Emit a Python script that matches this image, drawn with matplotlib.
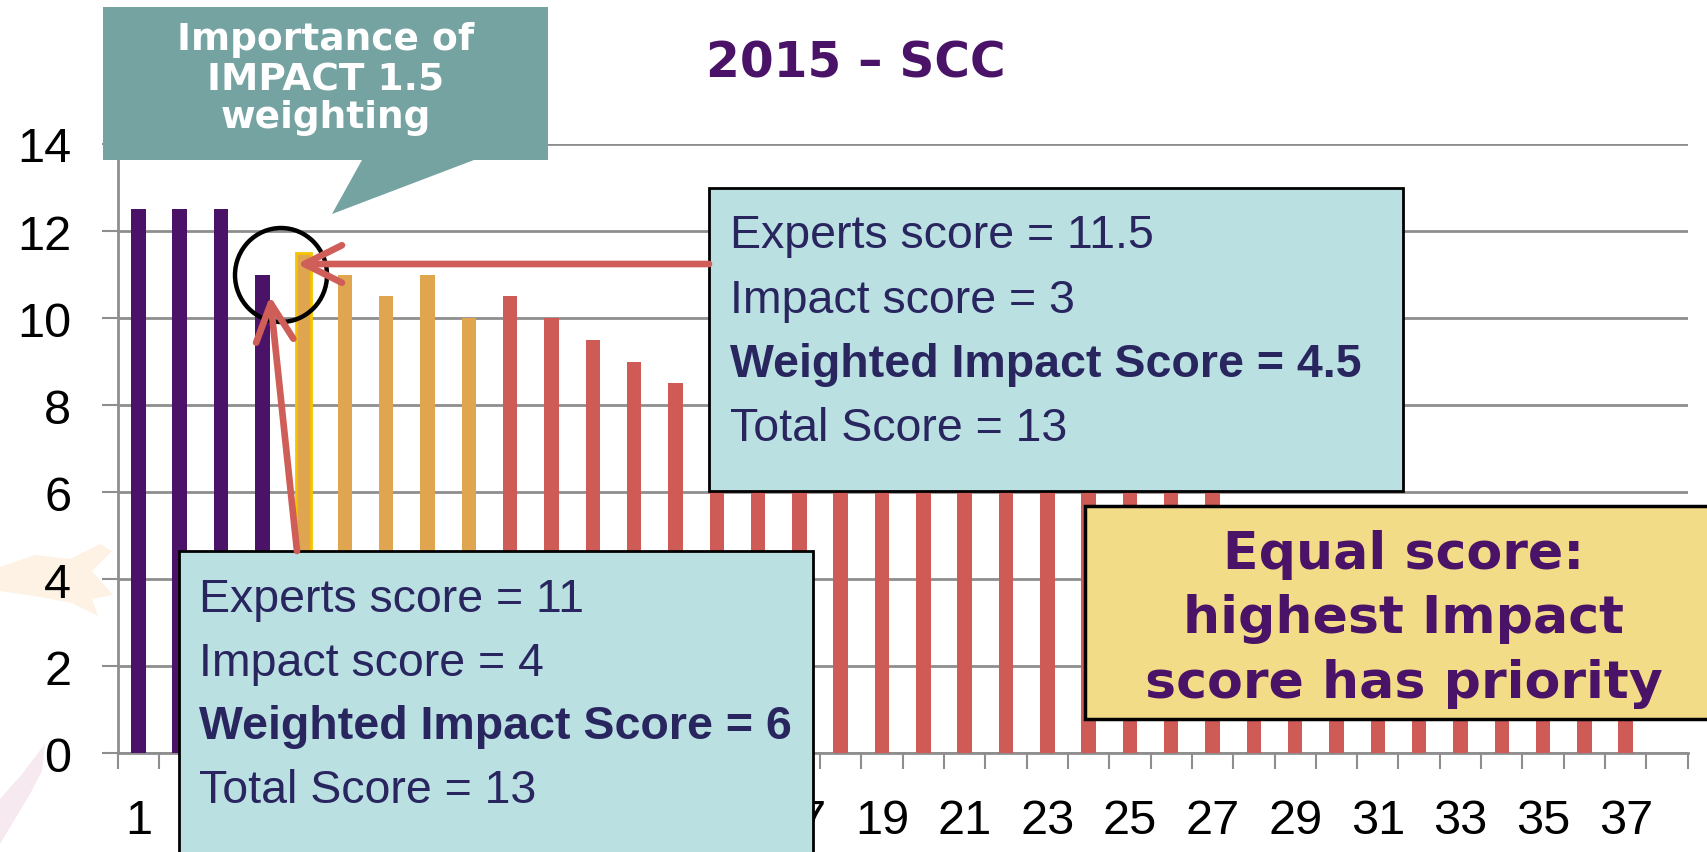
import matplotlib
matplotlib.use('Agg')
import matplotlib.pyplot as plt
import numpy as np
from matplotlib.patches import Polygon, Rectangle, Ellipse

# scores per ranked item (38 slots, last one empty)
ranks = np.arange(1, 39)
scores = [12.5, 12.5, 12.5, 11, 11.5, 11, 10.5, 11, 10, 10.5,
          10, 9.5, 9, 8.5, 8, 8, 7.5, 7.5, 7, 7,
          7, 6.5, 6.5, 6.5, 6, 6, 6, 5.5, 5.5, 5,
          5, 4.5, 4.5, 4, 4, 3.5, 3, 0]
groups = ['p'] * 4 + ['h'] + ['o'] * 4 + ['r'] * 29
tick_labels = [str(i) for i in range(1, 38, 2)]

title = '2015 \u2013 SCC'
callout_lines = ['Importance of', 'IMPACT 1.5', 'weighting']
box_top_lines = ['Experts score = 11.5', 'Impact score = 3',
                 'Weighted Impact Score = 4.5', 'Total Score = 13']
box_bot_lines = ['Experts score = 11', 'Impact score = 4',
                 'Weighted Impact Score = 6', 'Total Score = 13']
note_lines = ['Equal score:', 'highest Impact', 'score has priority']

purple = '#4A1367'
orange = '#E0A64F'
red = '#CF5B57'
yellow_edge = '#F5C400'
navy = '#28255F'
grid_col = '#8E8E8E'
colors = {'p': purple, 'h': orange, 'o': orange, 'r': red}

W, H = 1708, 853
fig = plt.figure(figsize=(W / 100, H / 100), dpi=100)
fig.patch.set_facecolor('white')

# faint watermark in the background
bg = fig.add_axes([0, 0, 1, 1], zorder=0)
bg.set_xlim(0, W)
bg.set_ylim(H, 0)
bg.axis('off')
bg.add_patch(Polygon([(0, 568), (35, 556), (70, 560), (100, 545), (112, 552),
                      (92, 572), (113, 596), (92, 600), (98, 617), (72, 604),
                      (40, 598), (0, 592)], closed=True, fc='#FDF2E4', ec='none'))
bg.add_patch(Polygon([(0, 800), (22, 775), (45, 745), (42, 772), (30, 795),
                      (12, 825), (0, 845)], closed=True, fc='#F6E9F0', ec='none'))

ax = fig.add_axes([117.7 / W, 1 - 754.3 / H, (1687.7 - 117.7) / W, (754.3 - 145) / H], zorder=1)
ax.patch.set_alpha(0)

bar_cols = [colors[g] for g in groups]
bars = ax.bar(ranks, scores, width=0.35, color=bar_cols, zorder=3)
for b, g in zip(bars, groups):
    if g == 'h':
        b.set_edgecolor(yellow_edge)
        b.set_linewidth(2)

ax.set_xlim(0.5, 38.5)
ax.set_ylim(0, 14)
ax.set_yticks(np.arange(0, 15, 2))
ax.yaxis.grid(True, color=grid_col, lw=2, zorder=0)
ax.set_xticks(np.arange(1, 38, 2))
ax.set_xticklabels(tick_labels)
ax.set_xticks(np.arange(0.5, 39, 1), minor=True)
ax.tick_params(axis='x', which='major', length=0, pad=32)
ax.tick_params(axis='x', which='minor', length=11.5, width=1.5, color=grid_col)
ax.tick_params(axis='y', length=11.5, width=1.5, color=grid_col, pad=22)
for lab in ax.get_xticklabels() + ax.get_yticklabels():
    lab.set_fontfamily('Liberation Sans')
    lab.set_fontsize(35)
for s in ['top', 'right']:
    ax.spines[s].set_visible(False)
for s in ['left', 'bottom']:
    ax.spines[s].set_color(grid_col)
    ax.spines[s].set_linewidth(2)

# overlay in pixel coordinates
ov = fig.add_axes([0, 0, 1, 1], zorder=2)
ov.set_xlim(0, W)
ov.set_ylim(H, 0)
ov.axis('off')

ov.text(856, 77, title, ha='center', va='baseline', fontsize=35,
        fontweight='bold', color=purple, family='DejaVu Sans')

ov.add_patch(Polygon([(103, 8), (548, 8), (548, 161), (474, 161), (332, 215),
                      (362, 161), (103, 161)], closed=True, fc='#74A3A1', ec='none'))
for txt, yb in zip(callout_lines, [50, 90, 128]):
    ov.text(326, yb, txt, ha='center', va='baseline', fontsize=27,
            fontweight='bold', color='white', family='DejaVu Sans')

box_font = 'Liberation Sans'
ov.add_patch(Rectangle((709, 189), 1403 - 709, 492 - 189, fc='#BAE0E2', ec='black', lw=2))
for txt, yb in zip(box_top_lines, [248, 313, 377, 441]):
    ov.text(730, yb, txt, ha='left', va='baseline', fontsize=33.5, color=navy,
            family=box_font, fontweight='bold' if txt.startswith('Weighted') else 'normal')

ov.add_patch(Rectangle((179, 552), 813 - 179, 320, fc='#BAE0E2', ec='black', lw=2))
for txt, yb in zip(box_bot_lines, [612, 676, 739, 803]):
    ov.text(199, yb, txt, ha='left', va='baseline', fontsize=33.5, color=navy,
            family=box_font, fontweight='bold' if txt.startswith('Weighted') else 'normal')

ov.add_patch(Rectangle((1085, 507), 700, 720 - 507, fc='#F3DC87', ec='black', lw=2.5))
for txt, yb in zip(note_lines, [569, 633, 698]):
    ov.text(1404, yb, txt, ha='center', va='baseline', fontsize=37.5,
            fontweight='bold', color=purple, family='DejaVu Sans')

arrow_col = '#D05E58'
aprops = dict(arrowstyle='->,head_length=0.9,head_width=0.45', lw=4.8,
              color=arrow_col, mutation_scale=30, shrinkA=0, shrinkB=0)
ov.annotate('', xy=(297, 265), xytext=(709, 265), arrowprops=aprops)
ov.annotate('', xy=(270, 297), xytext=(297, 552), arrowprops=aprops)
ov.add_patch(Ellipse((281, 276), 92, 94, fc='none', ec='black', lw=3.2))

fig.savefig('out.png', dpi=100)
